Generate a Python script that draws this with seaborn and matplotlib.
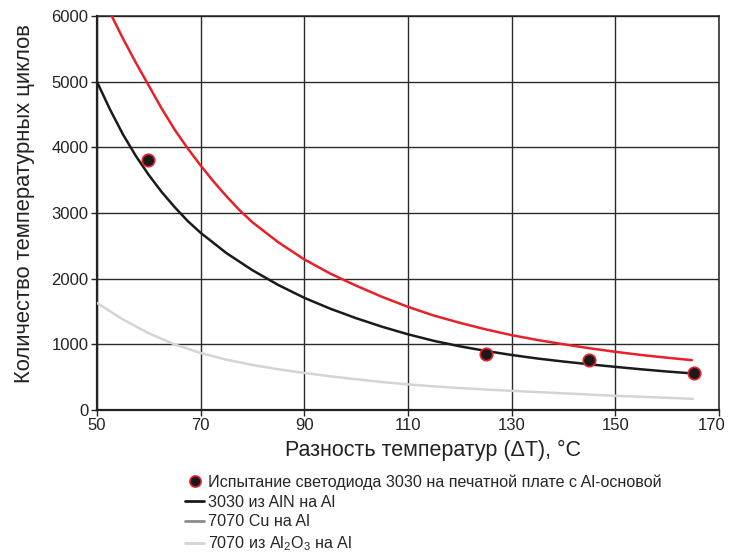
import pandas as pd
import matplotlib.pyplot as plt
import matplotlib.transforms as mtransforms
import seaborn as sns
from matplotlib.lines import Line2D

# values
x_black = [50, 52.5, 55, 57.5, 60, 62.5, 65, 67.5, 70, 75, 80, 85, 90, 95, 100, 105, 110,
           115, 120, 125, 130, 135, 140, 145, 150, 155, 160, 165.3]
y_black = [5000, 4580, 4200, 3870, 3580, 3320, 3090, 2880, 2700, 2390, 2130, 1905, 1710, 1545,
           1400, 1270, 1155, 1055, 972, 902, 840, 786, 740, 698, 659, 622, 588, 557]

x_red = [52.85, 55, 57.5, 60, 62.5, 65, 67.5, 70, 72.5, 75, 77.5, 80, 85, 90, 95, 100,
         105, 110, 115, 120, 125, 130, 135, 140, 145, 150, 155, 160, 164.8]
y_red = [6000, 5660, 5290, 4940, 4590, 4270, 3985, 3725, 3480, 3255, 3045, 2860, 2555, 2295,
         2080, 1895, 1725, 1573, 1440, 1330, 1230, 1142, 1068, 1003, 943, 888, 840, 798, 761]

x_gray = [50, 55, 60, 65, 70, 75, 80, 85, 90, 95, 100, 105, 110, 115, 120, 125, 130, 135, 140,
          145, 150, 155, 160, 165]
y_gray = [1633, 1380, 1170, 1000, 870, 768, 688, 622, 566, 515, 470, 428, 392, 362, 336, 314,
          294, 275, 256, 237, 218, 203, 188, 172]

x_test = [59.8, 125, 145, 165.3]
y_test = [3805, 850, 770, 570]

x_ticks = [50, 70, 90, 110, 130, 150, 170]
y_ticks = [0, 1000, 2000, 3000, 4000, 5000, 6000]

legend_labels = ["Испытание светодиода 3030 на печатной плате с Al-основой",
                 "3030 из AlN на Al",
                 "7070 Cu на Al",
                 "7070 из Al$_2$O$_3$ на Al"]

sns.set_style("white")
plt.rcParams['font.family'] = ['Liberation Sans Narrow', 'Liberation Sans', 'DejaVu Sans']
plt.rcParams['mathtext.fontset'] = 'custom'
plt.rcParams['mathtext.rm'] = 'Liberation Sans'

black = pd.DataFrame({'x': x_black, 'y': y_black})
red = pd.DataFrame({'x': x_red, 'y': y_red})
gray = pd.DataFrame({'x': x_gray, 'y': y_gray})
test = pd.DataFrame({'x': x_test, 'y': y_test})

fig = plt.figure(figsize=(7.29, 5.52), dpi=100)
ax = fig.add_axes([0.133, 0.257, 0.853, 0.714])

sns.lineplot(data=gray, x='x', y='y', ax=ax, color='#d4d4d4', lw=1.8, zorder=3)
sns.lineplot(data=black, x='x', y='y', ax=ax, color='#1a1a1a', lw=1.8, zorder=4)
sns.lineplot(data=red, x='x', y='y', ax=ax, color='#e8202a', lw=1.8, zorder=4)
sns.scatterplot(data=test, x='x', y='y', ax=ax, color='#1a1a1a', edgecolor='#e8202a',
                linewidth=1.2, s=80, zorder=5)

ax.set_xlim(50, 170)
ax.set_ylim(0, 6000)
ax.set_xticks(x_ticks)
ax.set_yticks(y_ticks)
ax.grid(True, color='#2a2a2a', lw=1.0)
ax.set_axisbelow(True)
for s in ax.spines.values():
    s.set_color('#222222')
    s.set_linewidth(1.1)
ax.spines['left'].set_linewidth(1.6)
ax.spines['bottom'].set_linewidth(1.6)
ax.tick_params(axis='both', direction='out', length=4, width=1, colors='#222222',
               labelsize=12, labelcolor='#222222', pad=2, left=True, bottom=True)

# last x label sits a bit left so it stays inside the picture
last = ax.get_xticklabels()[-1]
last.set_transform(last.get_transform() + mtransforms.ScaledTranslation(-7 / 100, 0, fig.dpi_scale_trans))

ax.set_xlabel("Разность температур (ΔТ), °C", fontsize=15.5, color='#222222',
              family=['Liberation Sans', 'DejaVu Sans'])
ax.xaxis.set_label_coords(0.54, -0.075)
ax.set_ylabel("Количество температурных циклов", fontsize=15.8, color='#222222',
              family=['Liberation Sans', 'DejaVu Sans'])
ax.yaxis.set_label_coords(-0.1, 0.525)

handles = [Line2D([], [], ls='none', marker='o', markersize=8, markerfacecolor='#1a1a1a',
                  markeredgecolor='#e8202a', markeredgewidth=1.2),
           Line2D([], [], color='#1a1a1a', lw=2),
           Line2D([], [], color='#8c8c8c', lw=2),
           Line2D([], [], color='#d4d4d4', lw=2)]
fig.legend(handles=handles, labels=legend_labels, loc='upper left',
           bbox_to_anchor=(0.254, 0.141), frameon=False,
           handlelength=1.18, handletextpad=0.25, labelspacing=0.3, borderaxespad=0,
           borderpad=0, prop={'family': ['Liberation Sans', 'DejaVu Sans'], 'size': 11.6})

fig.savefig("out.png", dpi=100)
